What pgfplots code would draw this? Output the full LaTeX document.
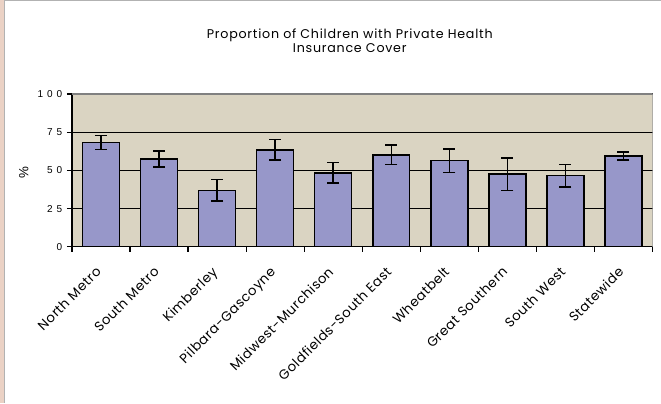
\documentclass[border=0pt]{standalone}
\usepackage{pgfplots}
\pgfplotsset{compat=1.18}
\usepackage{pgfplotstable}
\usepackage{fontspec}
\setmainfont{Poppins}
\newfontfamily\titlefont[LetterSpace=6]{Poppins}
\newfontfamily\catfont[LetterSpace=4]{Poppins}
\newfontfamily\tickfont[LetterSpace=40]{Liberation Sans}

\definecolor{plotbg}{RGB}{218,212,194}
\definecolor{barfill}{RGB}{151,151,201}
\definecolor{framepink}{RGB}{235,210,197}

\pgfplotstableread{
x  y     err
0  68.2  4.6
1  57.5  5.2
2  37.0  7.1
3  63.4  6.7
4  48.4  6.6
5  60.1  6.4
6  56.4  7.7
7  47.5  10.7
8  46.6  7.4
9  59.3  2.6
}\insurance

% 1 px of the reference = 0.75pt
\begin{document}
\begin{tikzpicture}
  \fill[white] (0pt,0pt) rectangle (495.75pt,302.25pt);
  \fill[framepink] (0pt,0pt) rectangle (3pt,302.25pt);
  \draw[black!30,line width=0.75pt] (3.4pt,0pt) -- (3.4pt,301.9pt) -- (495.75pt,301.9pt);
  \useasboundingbox (0pt,0pt) rectangle (495.75pt,302.25pt);

  \node[align=center,font=\titlefont\fontsize{9.5}{10.5}\selectfont,anchor=north]
    at (262.5pt,283.8pt) {Proportion of Children with Private Health\\Insurance Cover};

  \begin{axis}[
    at={(54pt,117pt)}, anchor=south west,
    scale only axis,
    width=435.75pt, height=114.75pt,
    xmin=-0.5, xmax=9.5,
    ymin=0, ymax=100,
    axis x line*=bottom, axis y line*=left,
    axis line style={black,line width=0.9pt},
    axis background/.style={fill=plotbg},
    ytick={0,25,50,75,100},
    yticklabels={0,25,50,75,100},
    yticklabel style={font=\tickfont\fontsize{7.5}{9}\selectfont},
    ymajorgrids,
    major grid style={black,line width=0.9pt},
    xtick={0,...,9},
    xticklabels={North Metro,South Metro,Kimberley,Pilbara-Gascoyne,Midwest-Murchison,Goldfields-South East,Wheatbelt,Great Southern,South West,Statewide},
    xticklabel style={font=\catfont\fontsize{10}{11}\selectfont,rotate=45,anchor=north east,inner sep=1pt,xshift=-9.5pt,yshift=-3pt},
    minor xtick={-0.5,0.5,...,9.5},
    tick align=outside,
    major tick length=3.75pt,
    minor tick length=3.75pt,
    tick style={black,line width=0.9pt},
    major x tick style={draw=none},
    ylabel={\%},
    ylabel style={font=\tickfont\fontsize{10}{11}\selectfont,xshift=-2pt},
  ]
    \addplot[ybar,bar width=27.75pt,bar shift=0pt,fill=barfill,draw=black,line width=1.1pt,
      error bars/.cd,y dir=both,y explicit,
      error bar style={black,line width=1.1pt},
      error mark options={black,rotate=90,mark size=4.5pt,line width=1.1pt}]
      table[x=x,y=y,y error=err]{\insurance};
    \draw[black!50,line width=1.4pt] (rel axis cs:0,1) -- (rel axis cs:1,1);
    \draw[black!40,line width=0.8pt] (rel axis cs:1,1) -- (rel axis cs:1,0);
  \end{axis}
\end{tikzpicture}
\end{document}
